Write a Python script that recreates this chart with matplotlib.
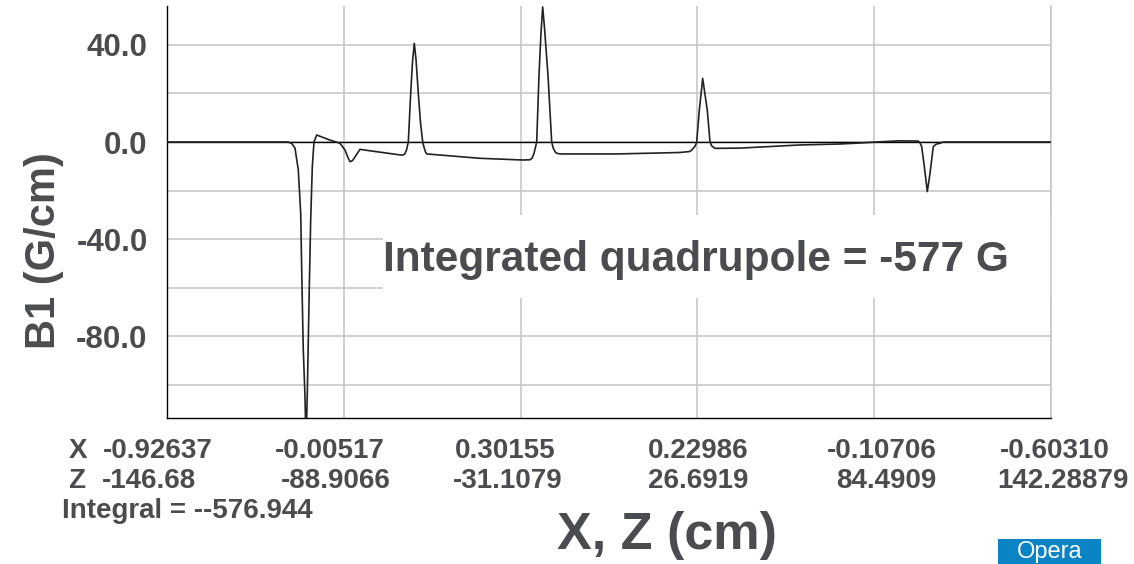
import matplotlib
matplotlib.use("Agg")
import matplotlib.pyplot as plt
from matplotlib.patches import Rectangle

W, H = 1134, 564

# B1 profile along the beam
Z_CM = [-146.68, -107.13, -105.9, -104.84, -103.76, -102.97, -102.55, -102.13,
        -101.57, -101.24, -100.82, -100.49, -100.16, -99.71, -99.18, -98.63,
        -97.75, -93.40, -90.13, -88.49, -87.6, -86.86, -86.0, -85.22, -83.59,
        -80.32, -70.52, -69.6, -68.9, -68.39, -67.80, -67.02, -66.43, -65.84,
        -65.28, -64.53, -63.81, -63.09, -62.7, -62.2, -61.79, -44.36, -30.31,
        -28.02, -27.3, -26.7, -25.83, -25.08, -24.42, -23.87, -23.28, -22.14,
        -20.93, -20.4, -19.7, -19.29, -18.21, 0.32, 14.47, 21.01, 24.2, 24.84,
        26.0, 26.47, 27.32, 28.43, 29.94, 30.82, 31.4, 32.45, 40.63, 60.24,
        73.32, 79.85, 86.39, 92.93, 98.91, 99.5, 100.02, 100.87, 101.85,
        102.74, 103.81, 104.7, 106.00, 107.08, 142.28879]
B1 = [0.0, 0.0, -0.6, -2.5, -11.5, -29.5, -59.4, -85.6,
      -104.8, -125.0, -103.7, -81.5, -59.5, -32.1, -10.2, 0.1,
      2.9, 0.8, -0.5, -3.3, -6.2, -8.1, -7.6, -6.1, -3.0,
      -3.6, -5.3, -5.4, -4.8, -3.3, 0.0, 20.0, 33.0, 40.6,
      34.0, 20.0, 8.0, 0.0, -2.0, -4.0, -4.9, -6.7, -7.4,
      -7.3, -6.6, -4.6, 0.0, 27.5, 45.0, 55.6, 47.0, 27.5,
      0.0, -2.6, -4.2, -4.6, -4.9, -4.9, -4.5, -4.3, -3.9, -3.3,
      -1.6, 0.0, 13.0, 26.2, 13.0, 0.0, -1.6, -2.6, -2.5, -1.2,
      -0.8, -0.4, 0.1, 0.5, 0.4, -0.4, -1.9, -10.0, -20.4,
      -12.9, -1.9, -0.9, -0.5, 0.0, 0.0]

Z_TICKS = [-146.68, -88.9066, -31.1079, 26.6919, 84.4909, 142.28879]
X_LABELS = ["-0.92637", "-0.00517", "0.30155", "0.22986", "-0.10706", "-0.60310"]
Z_LABELS = ["-146.68", "-88.9066", "-31.1079", "26.6919", "84.4909", "142.28879"]
Y_TICKS = [40, 0, -40, -80]
Y_MINOR = [20, -20, -60, -100]
INTEGRAL = -576.944
INTEGRATED_Q = -577

TXT = "#4a4c4f"
GRID = "#c4c4c4"

plt.rcParams.update({
    "font.family": "Liberation Sans",
    "font.weight": "bold",
    "axes.unicode_minus": False,
})


def fx(px):
    return px / W


def fy(py):
    return 1 - py / H


fig = plt.figure(figsize=(W / 100, H / 100), dpi=100)
ax = fig.add_axes([fx(167), fy(418), (1051 - 167) / W, (418 - 6) / H])

ax.set_xlim(Z_TICKS[0], Z_TICKS[-1])
ax.set_ylim(-113.6, 56.0)
ax.set_axisbelow(True)

ax.set_xticks(Z_TICKS)
ax.set_yticks(Y_TICKS)
ax.set_yticks(Y_MINOR, minor=True)
ax.set_yticklabels([f"{v:.1f}" for v in Y_TICKS])
ax.grid(which="both", color=GRID, linewidth=1.1)
ax.tick_params(axis="x", length=0, labelbottom=False)
ax.tick_params(axis="y", which="both", length=0, pad=14,
               labelsize=22.5, labelcolor=TXT)

for s in ("left", "bottom"):
    ax.spines[s].set_color("black")
    ax.spines[s].set_linewidth(1.0)
ax.spines["top"].set_visible(False)
ax.spines["right"].set_color(GRID)
ax.spines["right"].set_linewidth(1.1)

ax.axhline(0, color="black", linewidth=1.0, zorder=2)
ax.plot(Z_CM, B1, color="#222222", linewidth=1.2, zorder=3)

# white panel behind the annotation (it hides the grid there)
ax.add_patch(Rectangle((fx(383), fy(298)), fx(1051) - fx(383), fy(215) - fy(298),
                       transform=fig.transFigure, facecolor="white",
                       edgecolor="none", zorder=1))
fig.text(fx(383), fy(271), f"Integrated quadrupole = {INTEGRATED_Q} G",
         fontsize=30.5, color=TXT, ha="left", va="baseline")

fig.text(fx(44), fy(251), "B1 (G/cm)", rotation=90, fontsize=30,
         color=TXT, ha="center", va="center")

# two-row position labels under the axis
X_LEFT = [102.5, 275, 455, 648, 827, 999.5]
Z_LEFT = [102, 281, 453, 648, 836.5, 997.5]
fig.text(fx(68.6), fy(451), "X", fontsize=20, color=TXT, ha="left", va="center")
fig.text(fx(68.6), fy(481), "Z", fontsize=20, color=TXT, ha="left", va="center")
for xl, lab in zip(X_LEFT, X_LABELS):
    fig.text(fx(xl), fy(451), lab, fontsize=20, color=TXT, ha="left", va="center")
for xl, lab in zip(Z_LEFT, Z_LABELS):
    fig.text(fx(xl), fy(481), lab, fontsize=20, color=TXT, ha="left", va="center")
fig.text(fx(62), fy(511), f"Integral = -{INTEGRAL}", fontsize=20, color=TXT,
         ha="left", va="center")

fig.text(fx(557), fy(535), "X, Z (cm)", fontsize=37.5, color=TXT,
         ha="left", va="center")

# Opera badge at the bottom edge
fig.patches.append(Rectangle((fx(998), 0), fx(1101) - fx(998), fy(539),
                             transform=fig.transFigure, facecolor="#0b84c6",
                             edgecolor="none"))
fig.text(fx(1049.5), fy(558), "Opera", fontsize=17, fontweight="normal",
         color="white", ha="center", va="baseline")

fig.savefig("out.png", dpi=100)
